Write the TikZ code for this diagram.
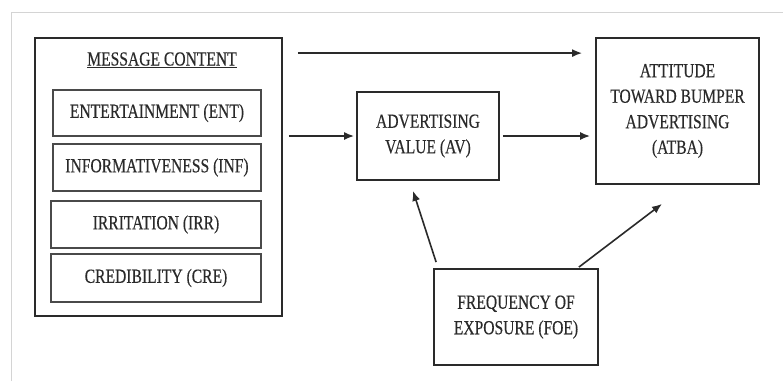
\documentclass[tikz,border=0pt]{standalone}
\usepackage{fontspec}
\setmainfont[FakeStretch=0.78,FakeBold=0.3]{Liberation Serif}
\usetikzlibrary{arrows.meta,calc}
\definecolor{ink}{HTML}{2A2A2A}
\definecolor{frame}{HTML}{D4D4D4}
\tikzset{
  box/.style={draw=ink, line width=1.8pt, rectangle, inner sep=0pt, align=center, text=ink, font=\fontsize{20}{25.5}\selectfont},
  subbox/.style={box, line width=1.5pt, draw=ink!85},
  arr/.style={draw=ink, line width=1.6pt, -{Latex[length=10pt,width=8pt]}},
}
\begin{document}
\begin{tikzpicture}[x=1pt,y=-1pt]
\useasboundingbox (0,0) rectangle (783,381);
\fill[white] (0,0) rectangle (783,381);
\draw[frame, line width=1pt] (11,381) -- (11,12) -- (783,12);
% message content group
\node[box, minimum width=247pt, minimum height=278pt] (msg) at (158.5,177) {};
\node[text=ink, font=\fontsize{20}{25.5}\selectfont, inner sep=0pt] (title) at (162,60) {\underline{MESSAGE CONTENT}};
\node[subbox, minimum width=208pt, minimum height=46pt] (ent) at (157,113) {ENTERTAINMENT (ENT)};
\node[subbox, minimum width=208pt, minimum height=47pt] (inf) at (157,167.5) {INFORMATIVENESS (INF)};
\node[subbox, minimum width=210pt, minimum height=47pt] (irr) at (156,224.5) {IRRITATION (IRR)};
\node[subbox, minimum width=210pt, minimum height=48pt] (cre) at (156,278) {CREDIBILITY (CRE)};
% other boxes
\node[box, minimum width=142pt, minimum height=88pt] (av) at (428,136) {ADVERTISING\\VALUE (AV)};
\node[box, minimum width=163pt, minimum height=146pt] (atba) at (677.5,111) {ATTITUDE\\TOWARD BUMPER\\ADVERTISING\\(ATBA)};
\node[box, minimum width=164pt, minimum height=96pt] (foe) at (516,317) {FREQUENCY OF\\EXPOSURE (FOE)};
% connector end points
\coordinate (topstart) at ($(msg.north east)+(15,16)$);
\coordinate (foeA) at ($(foe.north west)+(3,-6)$);
\coordinate (avB) at ($(av.south)+(-15,10)$);
\coordinate (foeC) at ($(foe.north east)+(-20,-1)$);
\coordinate (atbaD) at ($(atba.south)+(-15.5,19)$);
% connectors
\draw[arr, shorten >=13pt] (topstart) -- (topstart -| atba.west);
\draw[arr, shorten <=6pt, shorten >=2pt] (msg.east |- av.west) -- (av.west);
\draw[arr, shorten <=3pt, shorten >=5pt] (av.east) -- (av.east -| atba.west);
\draw[arr] (foeA) -- (avB);
\draw[arr] (foeC) -- (atbaD);
\end{tikzpicture}
\end{document}
